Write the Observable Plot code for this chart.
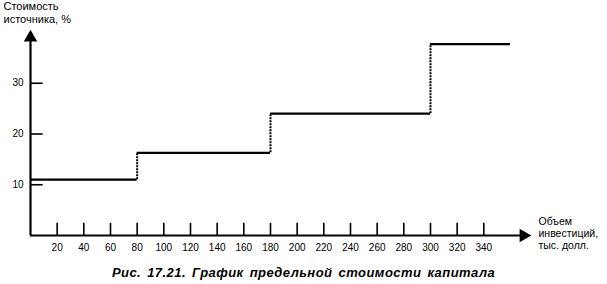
<!DOCTYPE html>
<html>
<head>
<meta charset="utf-8">
<script src="https://cdn.jsdelivr.net/npm/d3@7"></script>
<script src="https://cdn.jsdelivr.net/npm/@observablehq/plot@0.6"></script>
<style>
  html, body { margin: 0; padding: 0; background: #fff; }
  #chart svg { display: block; }
</style>
</head>
<body>
<div id="chart"></div>
<script>
// Data
const breakpoints = [0, 80, 180, 300, 360];      // investment volume, thousand $
const rates = [11, 16.3, 24, 37.7];              // cost of source, %
const xTicks = [20, 40, 60, 80, 100, 120, 140, 160, 180, 200, 220, 240, 260, 280, 300, 320, 340];
const yTicks = [10, 20, 30];
const yTitle = "Стоимость\nисточника, %";
const xTitle = "Объем\nинвестиций,\nтыс. долл.";
const caption = "Рис. 17.21. График предельной стоимости капитала";
const xMax = 373.5;
const yMax = 40;

const horiz = rates.map((r, i) => ({x1: breakpoints[i], x2: breakpoints[i + 1], y: r}));
const vert = rates.slice(1).map((r, i) => ({x: breakpoints[i + 1], y1: rates[i], y2: r}));

const font = "'Liberation Sans', Arial, sans-serif";

const chart = Plot.plot({
  width: 607,
  height: 284,
  marginLeft: 30,
  marginRight: 79,
  marginTop: 32,
  marginBottom: 49,
  style: {fontFamily: font, fontSize: "10px", color: "#000", background: "#fff"},
  x: {domain: [0, xMax], axis: null},
  y: {domain: [0, yMax], axis: null},
  marks: [
    Plot.axisX({ticks: xTicks, tickSize: 0, tickPadding: 8, fontSize: 10, label: null}),
    Plot.axisY({ticks: yTicks, tickSize: 0, tickPadding: 7, fontSize: 10, label: null}),
    // tick marks pointing inward
    Plot.ruleX(xTicks, {x: d => d, y1: 0, y2: 2.4, stroke: "#000", strokeWidth: 1.6}),
    Plot.ruleY(yTicks, {y: d => d, x1: 0, x2: 9.5, stroke: "#000", strokeWidth: 1.6}),
    // axes lines
    Plot.ruleY([0], {x1: 0, x2: xMax - 5, stroke: "#000", strokeWidth: 2}),
    Plot.ruleX([0], {y1: 0, y2: yMax - 1, stroke: "#000", strokeWidth: 2.2}),
    Plot.dot([0], {x: 0, y: yMax, symbol: "triangle", r: 5, fill: "#000", stroke: null, dy: 5}),
    Plot.dot([0], {x: xMax, y: 0, symbol: "triangle", r: 5, fill: "#000", stroke: null, dx: -5, rotate: 90}),
    // step function
    Plot.ruleY(horiz, {x1: "x1", x2: "x2", y: "y", stroke: "#000", strokeWidth: 2.2}),
    Plot.ruleX(vert, {x: "x", y1: "y1", y2: "y2", stroke: "#000", strokeWidth: 2, strokeDasharray: "2,1"}),
    // titles
    Plot.text([yTitle], {frameAnchor: "top-left", text: d => d, textAnchor: "start", lineAnchor: "top",
      dx: -27, dy: -31, fontSize: 11, lineHeight: 1.15, fill: "#000"}),
    Plot.text([xTitle], {frameAnchor: "bottom-right", text: d => d, textAnchor: "start", lineAnchor: "top",
      dx: 10, dy: -19, fontSize: 10.5, lineHeight: 1.15, fill: "#000"}),
    Plot.text([caption], {frameAnchor: "bottom", text: d => d, textAnchor: "middle", lineAnchor: "middle",
      dx: 24, dy: 37, fontSize: 13, fontWeight: "bold", fontStyle: "italic", fill: "#000"})
  ]
});
d3.select(chart).selectAll("text")
  .filter(function () { return this.textContent === caption; })
  .style("letter-spacing", "0.45px")
  .style("word-spacing", "2px");
document.getElementById("chart").appendChild(chart);
</script>
</body>
</html>
